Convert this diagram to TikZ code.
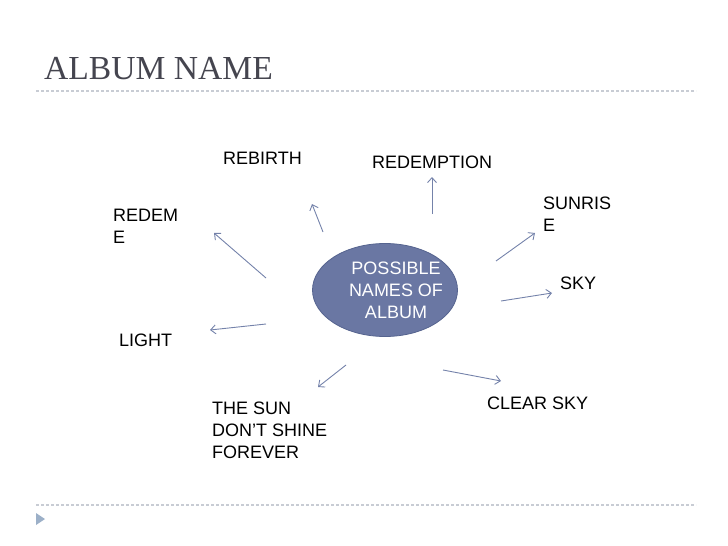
\documentclass[tikz,border=0pt]{standalone}
\usepackage{fontspec}
\setmainfont{Liberation Sans}
\newfontfamily\titlefont{Liberation Serif}
\usetikzlibrary{arrows.meta,shapes.geometric}
\definecolor{titlegray}{HTML}{45454F}
\definecolor{rulegray}{HTML}{C8CCD4}
\definecolor{hubfill}{HTML}{6A77A3}
\definecolor{hubedge}{HTML}{56648F}
\definecolor{arrowcol}{HTML}{7482AA}
\definecolor{bullet}{HTML}{9CB0C8}
\tikzset{
  lbl/.style={anchor=west, inner sep=0pt, align=left, text=black,
    font=\fontsize{18}{22}\selectfont},
  hub/.style={ellipse, draw=hubedge, line width=0.8pt, fill=hubfill,
    minimum width=145pt, minimum height=93pt, inner sep=0pt},
  hubtext/.style={inner sep=0pt, align=center, text=white,
    font=\fontsize{18}{22}\selectfont},
  ray/.style={draw=arrowcol, line width=0.9pt,
    -{Straight Barb[length=5pt,width=9pt,line width=0.9pt]}},
  rulestyle/.style={draw=rulegray, line width=1.5pt, dash pattern=on 3pt off 2pt}
}
\begin{document}
\begin{tikzpicture}[x=1pt,y=-1pt]
\useasboundingbox (0,0) rectangle (728,546);
% title
\node[anchor=base west, inner sep=0pt, text=titlegray,
  font=\titlefont\fontsize{33.6}{36}\selectfont] (title) at (44,79) {ALBUM NAME};
\coordinate (rulTa) at (36,91);
\coordinate (rulTb) at (696,91);
\draw[rulestyle] (rulTa) -- (rulTb);
\coordinate (rulBa) at (36,505);
\coordinate (rulBb) at (696,505);
\draw[rulestyle] (rulBa) -- (rulBb);
\fill[bullet] (36,513) -- (45,519) -- (36,525) -- cycle;
% hub
\node[hub] (hub) at (385,290) {};
\node[hubtext] (hubtext) at (396,290) {POSSIBLE\\NAMES OF\\ALBUM};
% labels
\node[lbl] (rebirth) at (223,158) {REBIRTH};
\node[lbl] (redemption) at (372,162) {REDEMPTION};
\node[lbl] (redeme) at (113,226) {REDEM\\E};
\node[lbl] (sunrise) at (543,214) {SUNRIS\\E};
\node[lbl] (sky) at (560,283) {SKY};
\node[lbl] (light) at (119,340) {LIGHT};
\node[lbl] (thesun) at (212,430) {THE SUN\\DON’T SHINE\\FOREVER};
\node[lbl] (clearsky) at (487,403) {CLEAR SKY};
% arrow ends
\coordinate (a1s) at (266,278); \coordinate (a1e) at (214,233);
\coordinate (a2s) at (323,232); \coordinate (a2e) at (312,204);
\coordinate (a3s) at (432,214); \coordinate (a3e) at (432,177);
\coordinate (a4s) at (496,261); \coordinate (a4e) at (535,233);
\coordinate (a5s) at (501,301); \coordinate (a5e) at (552,293);
\coordinate (a6s) at (266,324); \coordinate (a6e) at (210,330);
\coordinate (a7s) at (346,365); \coordinate (a7e) at (318,387);
\coordinate (a8s) at (443,370); \coordinate (a8e) at (501,381);
\draw[ray] (a1s) -- (a1e);
\draw[ray] (a2s) -- (a2e);
\draw[ray] (a3s) -- (a3e);
\draw[ray] (a4s) -- (a4e);
\draw[ray] (a5s) -- (a5e);
\draw[ray] (a6s) -- (a6e);
\draw[ray] (a7s) -- (a7e);
\draw[ray] (a8s) -- (a8e);
\end{tikzpicture}
\end{document}
